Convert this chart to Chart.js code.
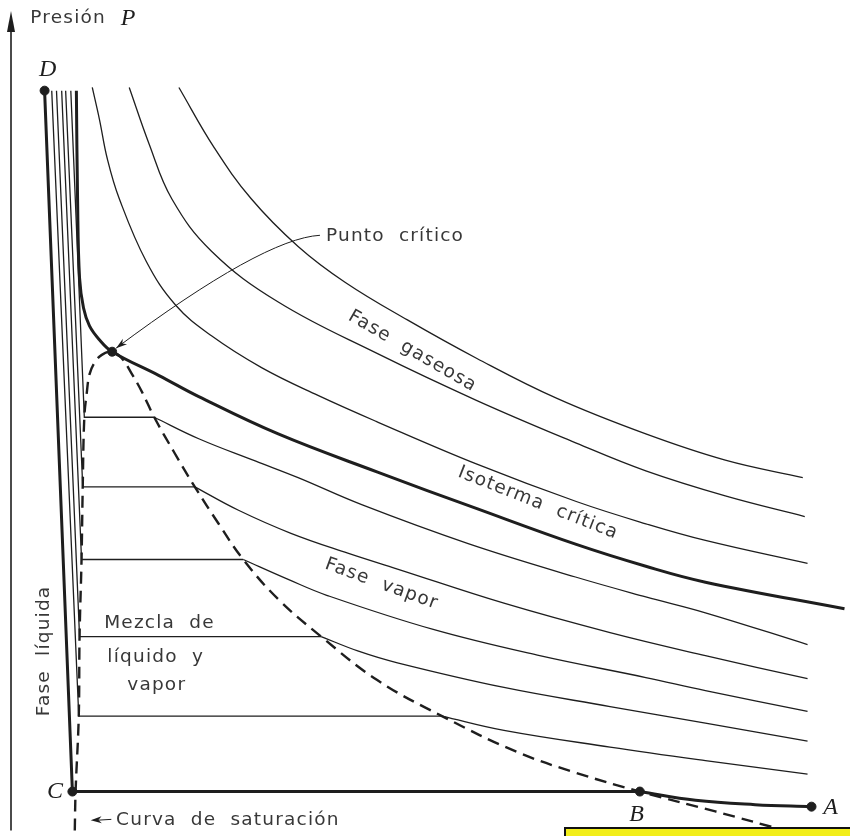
<!DOCTYPE html>
<html>
<head>
<meta charset="utf-8">
<script src="https://cdn.jsdelivr.net/npm/chart.js@4"></script>
<style>
  html, body { margin: 0; padding: 0; background: #fff; }
  #wrap { width: 850px; height: 836px; position: relative; }
</style>
</head>
<body>
<div id="wrap"><canvas id="G1"></canvas></div>
<script>
// volumen V (horizontal) y presion P (vertical), unidades arbitrarias
const topP = 93.1;

// isotermas por encima de la critica (de mayor a menor temperatura)
const sup1V = [21, 25.4, 30.1, 36, 41.9, 49.75, 58.5, 68.5, 79.75, 89.75, 99.5];
const sup1P = [93.5, 86, 79.5, 73.5, 69, 64.25, 59.4, 54.4, 49.9, 46.6, 44.4];
const sup2V = [14.75, 17.25, 20.1, 25.1, 33.5, 46, 58.5, 71, 79.75, 89.75, 99.75];
const sup2P = [93.5, 86.4, 79.5, 72.9, 66.5, 60, 54.1, 48.75, 45.25, 42.1, 39.5];
const sup3V = [10.1, 11, 12, 13.5, 16.9, 20.6, 25.1, 31.4, 38.5, 46, 58.5, 71, 79.75, 87.25, 100.1];
const sup3P = [93.5, 89.5, 84.5, 79.5, 71.6, 66.1, 62.25, 58.25, 54.75, 51.4, 46.1, 41.4, 38.6, 36.5, 33.6];

// isoterma critica
const critV = [8.1, 8.25, 8.5, 9, 9.75, 11, 12.6, 18.5, 23.5, 33.5, 46, 58.5, 71, 79.75, 87.25, 104.75];
const critP = [93.1, 79.5, 69.5, 65.75, 63.5, 61.75, 60.25, 57.25, 54.6, 49.9, 45.1, 40.5, 36, 33.25, 31.25, 27.9];

// isotermas bajo la critica: rama liquida + tramo horizontal
const satP = [52, 43.25, 34.1, 24.4, 14.4, 4.9];
const liqTopV = [7.4, 6.75, 6.25, 5.6, 5, 4.1];
const liqV = [9.1, 8.9, 8.75, 8.5, 8.4, 7.6];
const vapV = [17.9, 23, 29.1, 38.9, 54.1, 79];

// rama de vapor de cada isoterma
const vap1V = [17.9, 23.5, 30.6, 36, 44, 57.4, 70.9, 79.75, 87.25, 100.1];
const vap1P = [52, 49.3, 46.5, 44.4, 41, 36.1, 31.9, 29.4, 27.4, 23.4];
const vap2V = [23, 28.5, 35.1, 42.25, 48.5, 61.9, 75.25, 87.25, 100.1];
const vap2P = [43.25, 40.3, 37.4, 34.9, 32.9, 28.6, 24.9, 22, 19.1];
const vap3V = [29.1, 34.75, 39.6, 53, 66.4, 79.75, 87.25, 100.1];
const vap3P = [34.1, 31.6, 29.6, 25.3, 22, 19.25, 17.6, 15];
const vap4V = [38.9, 43.5, 48.5, 61.9, 75.25, 87.25, 100.1];
const vap4P = [24.4, 22.6, 21.1, 18, 15.6, 13.5, 11.25];
const vap5V = [54.1, 61.9, 75.25, 87.25, 100.1];
const vap5P = [14.4, 12.6, 10.5, 8.8, 7.1];
const vap6V = [79, 86, 93.5, 100.6];
const vap6P = [4.9, 3.8, 3.25, 3];

// curva de saturacion (campana)
const domeV = [7.9, 8, 8.4, 8.5, 8.75, 8.9, 9.1, 9.4, 9.75, 10.4, 11.3, 12.6, 13.75, 15, 16.4, 17.9, 20.4, 23, 26, 29.1, 33.5, 38.9, 46, 54.1, 63.5, 71, 79, 88.5, 97.25];
const domeP = [0, 4.9, 14.4, 24.4, 34.1, 43.25, 52, 55, 57.4, 58.9, 59.85, 60.25, 59.5, 57.6, 55.1, 52, 47.6, 43.25, 38.6, 34.1, 29.1, 24.4, 18.9, 14.4, 9.9, 7.25, 4.9, 2.4, 0];

// puntos marcados
const ptNames = ['D', 'C', 'B', 'A', 'K'];
const ptV = [4.1, 7.6, 79, 100.6, 12.6];
const ptP = [93.1, 4.9, 4.9, 3, 60.25];

const INK = '#1e1e1e';
const TXT = '#383838';

const pts = (v, p) => v.map((x, i) => ({ x: x, y: p[i] }));
const curve = (v, p, w) => ({
  data: pts(v, p), showLine: true, pointRadius: 0, borderColor: INK,
  borderWidth: w || 1.3, tension: 0.4, clip: false
});

const datasets = [];
datasets.push(curve(sup1V, sup1P));
datasets.push(curve(sup2V, sup2P));
datasets.push(curve(sup3V, sup3P));
datasets.push(curve(critV, critP, 3));
const vapV_all = [vap1V, vap2V, vap3V, vap4V, vap5V, vap6V];
const vapP_all = [vap1P, vap2P, vap3P, vap4P, vap5P, vap6P];
for (let i = 0; i < satP.length; i++) {
  const w = i === satP.length - 1 ? 3 : 1.3;
  datasets.push({
    data: pts([liqTopV[i], liqV[i], vapV[i]], [topP, satP[i], satP[i]]),
    showLine: true, pointRadius: 0, borderColor: INK, borderWidth: w, tension: 0, clip: false
  });
  datasets.push(curve(vapV_all[i], vapP_all[i], w));
}
datasets.push(Object.assign(curve(domeV, domeP, 2.4), { borderDash: [12, 7] }));
datasets.push({
  data: pts(ptV, ptP), showLine: false, pointRadius: 4.5, pointBackgroundColor: INK,
  pointBorderColor: INK, clip: false
});

const decor = {
  id: 'decor',
  afterDraw(chart) {
    const ctx = chart.ctx, xs = chart.scales.x, ys = chart.scales.y;
    const X = v => xs.getPixelForValue(v), Y = p => ys.getPixelForValue(p);
    const a = chart.chartArea;
    ctx.save();
    // eje de presion con flecha
    ctx.strokeStyle = INK; ctx.fillStyle = INK; ctx.lineWidth = 1.6;
    ctx.beginPath(); ctx.moveTo(a.left - 1, a.bottom); ctx.lineTo(a.left - 1, a.top + 12); ctx.stroke();
    ctx.beginPath(); ctx.moveTo(a.left - 1, a.top + 1); ctx.lineTo(a.left - 5, a.top + 22);
    ctx.lineTo(a.left + 3, a.top + 22); ctx.closePath(); ctx.fill();

    const sans = '"DejaVu Sans", sans-serif';
    ctx.fillStyle = TXT;
    ctx.letterSpacing = '1.2px';
    const txt = (s, v, p, ang, align, size) => {
      ctx.save();
      ctx.translate(X(v), Y(p));
      ctx.rotate((ang || 0) * Math.PI / 180);
      ctx.font = (size || 18.5) + 'px ' + sans;
      ctx.textAlign = align || 'center';
      ctx.textBaseline = 'middle';
      ctx.fillText(s, 0, 0);
      ctx.restore();
    };
    txt('Presión', 2.3, 102.2, 0, 'left');
    txt('Punto  crítico', 39.5, 74.8, 0, 'left');
    txt('Fase  gaseosa', 50.4, 60.3, 30);
    txt('Isoterma  crítica', 66.2, 41.2, 21.5);
    txt('Fase  vapor', 46.5, 31, 20);
    txt('Fase  líquida', 4.1, 22.6, -90);
    txt('Mezcla  de', 11.6, 26.1, 0, 'left');
    txt('líquido  y', 12, 21.75, 0, 'left');
    txt('vapor', 14.5, 18.25, 0, 'left');
    txt('Curva  de  saturación', 13.1, 1.3, 0, 'left');

    // letras en cursiva
    ctx.letterSpacing = '0px';
    ctx.fillStyle = INK;
    const ital = (s, v, p) => {
      ctx.font = 'italic 24px "Liberation Serif", "DejaVu Serif", serif';
      ctx.textAlign = 'center'; ctx.textBaseline = 'middle';
      ctx.fillText(s, X(v), Y(p));
    };
    ital('P', 14.6, 102.1);
    ital('D', 4.5, 95.8);
    ital('C', 5.4, 4.9);
    ital('B', 78.6, 2);
    ital('A', 103, 2.9);

    // flecha hacia el punto critico
    ctx.strokeStyle = INK; ctx.lineWidth = 1;
    const sx = X(38.75), sy = Y(74.9), cx = X(31.6), cy = Y(74.5);
    const ex = X(13.1), ey = Y(60.7);
    ctx.beginPath(); ctx.moveTo(sx, sy); ctx.quadraticCurveTo(cx, cy, ex, ey); ctx.stroke();
    const arrow = (x, y, dx, dy, len, wid) => {
      const l = Math.hypot(dx, dy), ux = dx / l, uy = dy / l;
      ctx.beginPath(); ctx.moveTo(x, y);
      ctx.lineTo(x - ux * len - uy * wid, y - uy * len + ux * wid);
      ctx.lineTo(x - ux * len * 0.7, y - uy * len * 0.7);
      ctx.lineTo(x - ux * len + uy * wid, y - uy * len - ux * wid);
      ctx.closePath(); ctx.fill();
    };
    arrow(ex, ey, ex - cx, ey - cy, 11, 3.5);

    // flecha de "Curva de saturacion"
    const ax1 = X(12.5), ax0 = X(9.9), ay = Y(1.4);
    ctx.beginPath(); ctx.moveTo(ax1, ay); ctx.lineTo(ax0 + 4, ay + 1); ctx.stroke();
    arrow(ax0, ay + 1, -1, 0.05, 11, 3.5);

    // franja amarilla del borde inferior
    ctx.fillStyle = '#f2ee1a';
    ctx.fillRect(566, 829, 284, 7);
    ctx.fillStyle = '#111';
    ctx.fillRect(564, 827, 286, 2);
    ctx.fillRect(564, 827, 2, 9);
    ctx.restore();
  }
};

new Chart(document.getElementById('G1'), {
  type: 'scatter',
  data: { datasets: datasets },
  options: {
    responsive: true,
    maintainAspectRatio: false,
    animation: false,
    layout: { padding: { left: 12, top: 10, right: 0, bottom: 0 } },
    plugins: { legend: { display: false }, tooltip: { enabled: false } },
    scales: {
      x: { type: 'linear', display: false, min: 0, max: 104.75 },
      y: { type: 'linear', display: false, min: 0, max: 103.25 }
    }
  },
  plugins: [decor]
});
</script>
</body>
</html>
